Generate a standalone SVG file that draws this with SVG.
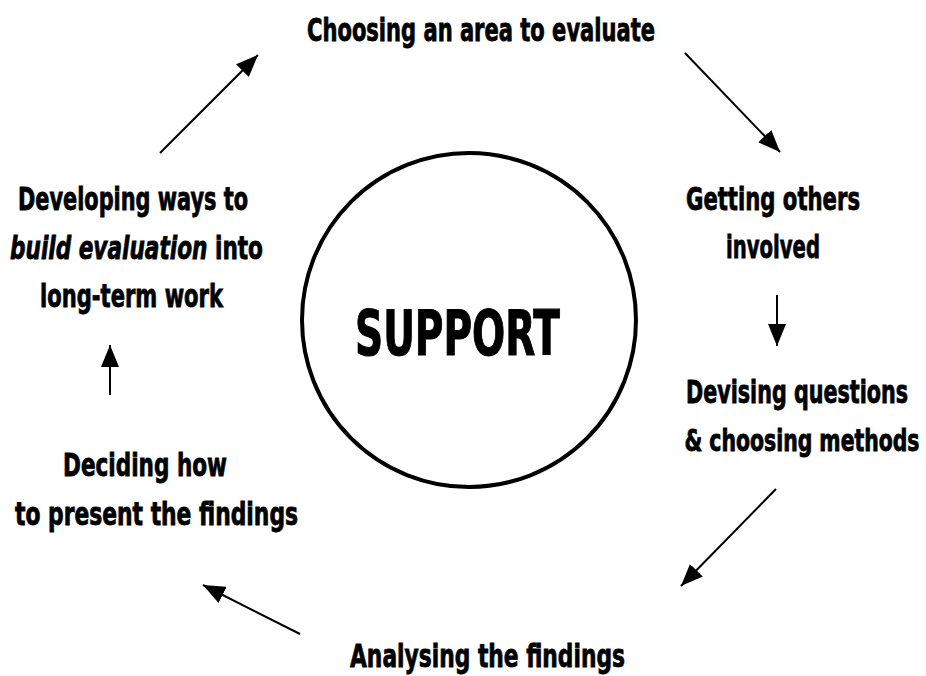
<svg xmlns="http://www.w3.org/2000/svg" width="926" height="676" viewBox="0 0 926 676">
<style>
  text { font-family: "DejaVu Sans Condensed", "DejaVu Sans", sans-serif; font-weight: bold; font-size: 24px; fill: #000; text-anchor: middle; font-stretch: condensed; stroke: #000; stroke-width: 0.6; }
  .big { font-size: 48px; stroke-width: 0.8; }
  .arrow { stroke: #000; stroke-width: 2; fill: none; marker-end: url(#head); }
</style>
<defs>
  <marker id="head" markerUnits="userSpaceOnUse" markerWidth="22" markerHeight="18" refX="22" refY="9" orient="auto">
    <path d="M0,0 L22,9 L0,18 z" fill="#000"/>
  </marker>
</defs>
<rect width="926" height="676" fill="#fff"/>
<g id="support">
  <circle cx="469" cy="320" r="167" fill="none" stroke="#000" stroke-width="4"/>
  <text class="big" transform="translate(457.5,355) scale(1,1.28)" textLength="205" lengthAdjust="spacingAndGlyphs">SUPPORT</text>
</g>
<g id="choosing">
  <text transform="translate(481,41) scale(1,1.3)" textLength="348" lengthAdjust="spacingAndGlyphs">Choosing an area to evaluate</text>
</g>
<g id="getting">
  <text transform="translate(773,210) scale(1,1.3)" textLength="174" lengthAdjust="spacingAndGlyphs">Getting others</text>
  <text transform="translate(773,258) scale(1,1.3)" textLength="94" lengthAdjust="spacingAndGlyphs">involved</text>
</g>
<g id="devising">
  <text transform="translate(797,403) scale(1,1.3)" textLength="222" lengthAdjust="spacingAndGlyphs">Devising questions</text>
  <text transform="translate(802,451) scale(1.04,1.36)" style="font-size:22px" textLength="226" lengthAdjust="spacingAndGlyphs">&amp; choosing methods</text>
</g>
<g id="analysing">
  <text transform="translate(487.5,667) scale(1,1.3)" textLength="275" lengthAdjust="spacingAndGlyphs">Analysing the findings</text>
</g>
<g id="deciding">
  <text transform="translate(145,476) scale(1,1.3)" textLength="164" lengthAdjust="spacingAndGlyphs">Deciding how</text>
  <text transform="translate(156.5,525) scale(1,1.3)" textLength="283" lengthAdjust="spacingAndGlyphs">to present the findings</text>
</g>
<g id="developing">
  <text transform="translate(133,210) scale(1,1.3)" textLength="230" lengthAdjust="spacingAndGlyphs">Developing ways to</text>
  <text transform="translate(136.5,259) scale(1,1.3)" textLength="253" lengthAdjust="spacingAndGlyphs"><tspan font-style="italic">build evaluation</tspan> into</text>
  <text transform="translate(131.5,307) scale(1,1.3)" textLength="183" lengthAdjust="spacingAndGlyphs">long-term work</text>
</g>
<g id="connectors">
  <line class="arrow" x1="160" y1="153" x2="258" y2="55"/>
  <line class="arrow" x1="685" y1="53" x2="780" y2="152"/>
  <line class="arrow" x1="777" y1="295" x2="777" y2="346"/>
  <line class="arrow" x1="776" y1="489" x2="681" y2="586"/>
  <line class="arrow" x1="300" y1="634" x2="203" y2="585"/>
  <line class="arrow" x1="110" y1="395" x2="110" y2="345"/>
</g>
</svg>
